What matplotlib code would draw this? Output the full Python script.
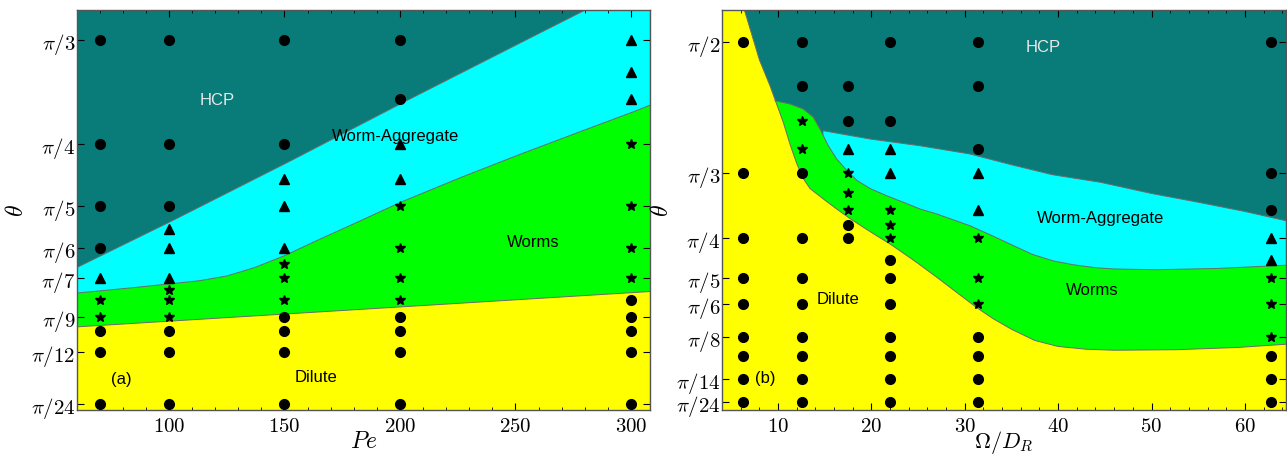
import numpy as np
import matplotlib
matplotlib.use("Agg")
import matplotlib.pyplot as plt
from matplotlib.ticker import MultipleLocator

plt.rcParams["mathtext.fontset"] = "cm"
plt.rcParams["font.family"] = ["Liberation Sans", "DejaVu Sans"]

PI = np.pi
C_HCP = "#097b78"
C_WA = "#00ffff"
C_WORM = "#00ff00"
C_DIL = "#ffff00"
C_EDGE = "#6a6a6a"

######## panel (a) : theta vs Pe ########
# markers, theta = pi / denominator
a_circ_x = [70]*7 + [100]*6 + [150]*6 + [200]*6 + [300]*5
a_circ_d = [3, 4, 5, 6, 10, 12, 24,
            3, 4, 5, 10, 12, 24,
            3, 4, 9, 10, 12, 24,
            3, 3.5, 9, 10, 12, 24,
            8, 9, 10, 12, 24]
a_tri_x = [70, 100, 100, 100, 150, 150, 150, 200, 200, 300, 300, 300]
a_tri_d = [7, 5.5, 6, 7, 4.5, 5, 6, 4, 4.5, 3, 3.25, 3.5]
a_star_x = [70, 70, 100, 100, 100, 150, 150, 150, 200, 200, 200, 200, 300, 300, 300, 300]
a_star_d = [8, 9, 7.5, 8, 9, 6.5, 7, 8, 5, 6, 7, 8, 4, 5, 6, 7]

# phase boundaries (theta in rad)
a_hcp_x = [60, 100, 150, 200, 250, 308.2]
a_hcp_t = [0.474, 0.588, 0.735, 0.886, 1.034, 1.205]
a_wa_x = [60, 80, 100, 112, 125, 137, 150, 162, 175, 200, 225, 250, 275, 300, 308.2]
a_wa_t = [0.410, 0.421, 0.433, 0.440, 0.453, 0.474, 0.504, 0.537, 0.571, 0.638,
          0.698, 0.755, 0.810, 0.864, 0.883]
a_dil_x = [60, 308.2]
a_dil_t = [0.325, 0.414]

a_yt_d = [3, 4, 5, 6, 7, 9, 12, 24]
a_xticks = [100, 150, 200, 250, 300]

######## panel (b) : theta vs Omega/D_R ########
b_cols = [2*PI, 4*PI, 17.5, 7*PI, 10*PI, 20*PI]
b_circ_d = [[2, 3, 4, 5, 6, 8, 10, 14, 24],
            [2, 2.25, 3, 4, 5, 6, 8, 10, 14, 24],
            [2.25, 2.5, 3.75, 4],
            [2, 2.5, 4.5, 5, 6, 8, 10, 14, 24],
            [2, 2.25, 2.75, 8, 10, 14, 24],
            [2, 3, 3.5, 10, 14, 24]]
b_tri_d = [[], [], [2.75], [2.75, 3], [3, 3.5], [4, 4.5]]
b_star_d = [[], [2.5, 2.75], [3, 3.25, 3.5], [3.5, 3.75, 4], [4, 5, 6], [5, 6, 8]]

# dilute (yellow) boundary
b_dil_x = [6.4, 8.0, 9.14, 9.78, 10.56, 11.3, 12.0, 12.7, 13.42, 14.85, 16.28, 17.7,
           19.13, 20.56, 22.0, 23.4, 25.0, 27.0, 29.0, 31.3, 33.0, 35.0, 37.5,
           40.0, 43.0, 46.0, 52.6, 59.2, 64.4]
b_dil_t = [1.699, 1.50, 1.396, 1.33, 1.25, 1.16, 1.085, 1.025, 0.985, 0.943, 0.903,
           0.865, 0.830, 0.796, 0.763, 0.727, 0.685, 0.630, 0.573, 0.508, 0.465,
           0.422, 0.377, 0.353, 0.342, 0.338, 0.340, 0.349, 0.362]
# top of worms (green) region
b_worm_x = [9.67, 11.28, 12.7, 13.78, 14.49, 15.38, 16.28, 17.35, 18.42, 19.85,
            21.63, 23.41, 25.2, 27.0, 30.55, 32.7, 35.0, 37.2, 39.5, 41.6,
            44.0, 46.0, 50.4, 57.0, 64.4]
b_worm_t = [1.336, 1.323, 1.303, 1.270, 1.223, 1.156, 1.103, 1.058, 1.018, 0.985,
            0.956, 0.930, 0.903, 0.883, 0.836, 0.800, 0.760, 0.722, 0.695, 0.680,
            0.668, 0.663, 0.660, 0.665, 0.678]
# top of worm-aggregate (cyan) region
b_wa_x = [14.85, 19.85, 25.2, 30.55, 35.0, 39.4, 44.5, 50.0, 55.0, 60.0, 64.4]
b_wa_t = [1.216, 1.183, 1.156, 1.123, 1.080, 1.040, 1.010, 0.965, 0.930, 0.893, 0.856]

b_yt_d = [2, 3, 4, 5, 6, 8, 14, 24]

fig = plt.figure(figsize=(12.87, 4.56), dpi=100)
ax1 = fig.add_axes([0.0598, 0.0987, 0.4452, 0.8772])
ax2 = fig.add_axes([0.5610, 0.0987, 0.4382, 0.8772])


def style(ax):
    ax.tick_params(which="both", direction="in", top=True, right=True, colors="k")
    ax.tick_params(which="major", length=5, width=0.8, labelsize=15)
    ax.tick_params(which="minor", length=2.5, width=0.6)
    ax.tick_params(axis="y", pad=1)
    ax.tick_params(axis="x", pad=4)
    for s in ax.spines.values():
        s.set_color("#555555")
        s.set_linewidth(1.0)


def markers(ax, x, t, m, ms):
    ax.plot(x, t, ls="none", marker=m, color="k", ms=ms, zorder=5)


# ---- panel (a)
ylo, yhi = 0.1158, 1.1227
xs = np.linspace(60.2, 308.2, 400)
ax1.set_facecolor(C_HCP)
hcp = np.interp(xs, a_hcp_x, a_hcp_t)
wa = np.interp(xs, a_wa_x, a_wa_t)
dil = np.interp(xs, a_dil_x, a_dil_t)
ax1.fill_between(xs, ylo - 1, hcp, color=C_WA, lw=0)
ax1.fill_between(xs, ylo - 1, wa, color=C_WORM, lw=0)
ax1.fill_between(xs, ylo - 1, dil, color=C_DIL, lw=0)
for yy in (hcp, wa, dil):
    ax1.plot(xs, yy, color=C_EDGE, lw=0.7)

markers(ax1, a_circ_x, PI / np.array(a_circ_d), "o", 7)
markers(ax1, a_tri_x, PI / np.array(a_tri_d), "^", 7)
markers(ax1, a_star_x, PI / np.array(a_star_d), "*", 7)

ax1.set_xlim(60.2, 308.2)
ax1.set_ylim(ylo, yhi)
ax1.set_xticks(a_xticks)
ax1.set_xticklabels([f"${v}$" for v in a_xticks])
ax1.xaxis.set_minor_locator(MultipleLocator(10))
ax1.set_yticks(PI / np.array(a_yt_d))
ax1.set_yticklabels([rf"$\pi/{d}$" for d in a_yt_d])
ax1.set_xlabel("$Pe$", fontsize=17, labelpad=-3)
ax1.set_ylabel(r"$\theta$", fontsize=17, labelpad=2)
style(ax1)

ax1.text(121, 0.898, "HCP", color="#e8e8e8", fontsize=12, ha="center", va="center")
ax1.text(198, 0.808, "Worm-Aggregate", fontsize=12, ha="center", va="center")
ax1.text(257.6, 0.539, "Worms", fontsize=12, ha="center", va="center")
ax1.text(163.7, 0.199, "Dilute", fontsize=12, ha="center", va="center")
ax1.text(79.2, 0.195, "(a)", fontsize=12, ha="center", va="center")

# ---- panel (b)
ylo2, yhi2 = 0.0989, 1.699
ax2.set_facecolor(C_HCP)
wa_poly_x = b_wa_x + [b_wa_x[-1], b_wa_x[0]]
wa_poly_t = b_wa_t + [ylo2 - 1, ylo2 - 1]
ax2.fill(wa_poly_x, wa_poly_t, color=C_WA, lw=0)
wm_poly_x = b_worm_x + [b_worm_x[-1], b_worm_x[0]]
wm_poly_t = b_worm_t + [ylo2 - 1, ylo2 - 1]
ax2.fill(wm_poly_x, wm_poly_t, color=C_WORM, lw=0)
dl_poly_x = b_dil_x + [b_dil_x[-1], 0, 0]
dl_poly_t = b_dil_t + [ylo2 - 1, ylo2 - 1, yhi2 + 1]
ax2.fill(dl_poly_x, dl_poly_t, color=C_DIL, lw=0)
ax2.plot(b_wa_x, b_wa_t, color=C_EDGE, lw=0.7)
ax2.plot(b_worm_x, b_worm_t, color=C_EDGE, lw=0.7)
ax2.plot(b_dil_x, b_dil_t, color=C_EDGE, lw=0.7)

for x, dc, dt, ds in zip(b_cols, b_circ_d, b_tri_d, b_star_d):
    markers(ax2, [x]*len(dc), PI / np.array(dc, dtype=float), "o", 7)
    if dt:
        markers(ax2, [x]*len(dt), PI / np.array(dt, dtype=float), "^", 7)
    if ds:
        markers(ax2, [x]*len(ds), PI / np.array(ds, dtype=float), "*", 7)

ax2.set_xlim(4.0, 64.4)
ax2.set_ylim(ylo2, yhi2)
b_xticks = [10, 20, 30, 40, 50, 60]
ax2.set_xticks(b_xticks)
ax2.set_xticklabels([f"${v}$" for v in b_xticks])
ax2.xaxis.set_minor_locator(MultipleLocator(2))
ax2.set_yticks(PI / np.array(b_yt_d))
ax2.set_yticklabels([rf"$\pi/{d}$" for d in b_yt_d])
ax2.set_xlabel(r"$\Omega/D_R$", fontsize=16, labelpad=-5)
ax2.set_ylabel(r"$\theta$", fontsize=17, labelpad=2)
style(ax2)

ax2.text(38.4, 1.551, "HCP", color="#e8e8e8", fontsize=12, ha="center", va="center")
ax2.text(44.5, 0.867, "Worm-Aggregate", fontsize=12, ha="center", va="center")
ax2.text(43.7, 0.579, "Worms", fontsize=12, ha="center", va="center")
ax2.text(16.4, 0.543, "Dilute", fontsize=12, ha="center", va="center")
ax2.text(8.6, 0.227, "(b)", fontsize=12, ha="center", va="center")

fig.savefig("out.png", dpi=100)
